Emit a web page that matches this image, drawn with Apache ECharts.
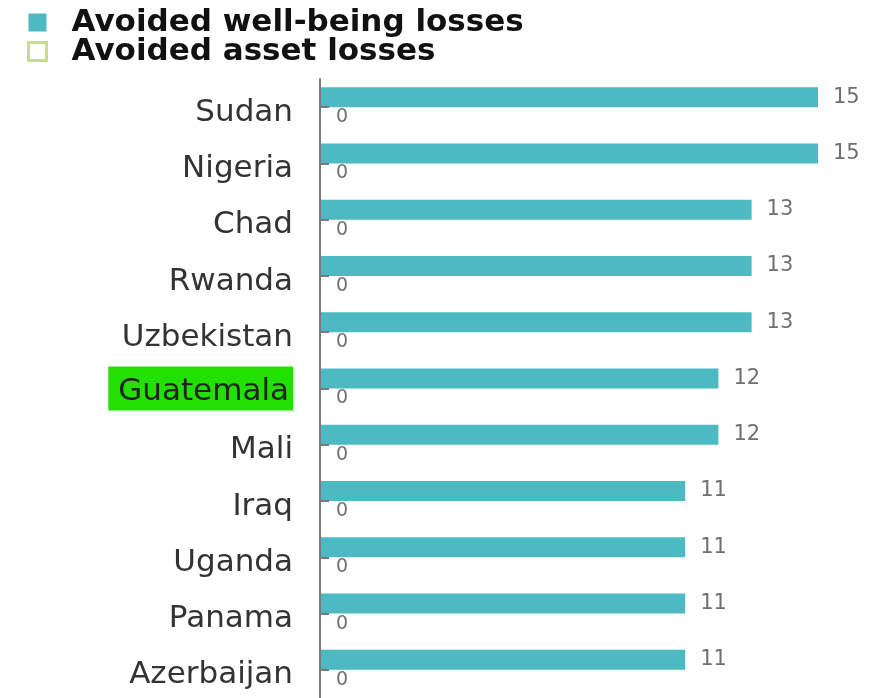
<!DOCTYPE html>
<html>
<head>
<meta charset="utf-8">
<script src="https://cdn.jsdelivr.net/npm/echarts@6/dist/echarts.min.js"></script>
<style>
  html, body { margin: 0; padding: 0; background: #fff; }
  #chart { width: 872px; height: 698px; }
</style>
</head>
<body>
<div id="chart"></div>
<script>
const countries = ['Sudan', 'Nigeria', 'Chad', 'Rwanda', 'Uzbekistan', 'Guatemala', 'Mali', 'Iraq', 'Uganda', 'Panama', 'Azerbaijan'];
const wellBeingLosses = [15, 15, 13, 13, 13, 12, 12, 11, 11, 11, 11];
const assetLosses = [0, 0, 0, 0, 0, 0, 0, 0, 0, 0, 0];
const highlighted = 'Guatemala';

const chart = echarts.init(document.getElementById('chart'));

const option = {
  animation: false,
  legend: {
    orient: 'vertical',
    left: 22,
    top: 2,
    itemWidth: 18,
    itemHeight: 18,
    itemGap: -2,
    textStyle: {
      fontFamily: 'DejaVu Sans',
      fontWeight: 'bold',
      fontSize: 31,
      lineHeight: 26,
      color: '#111',
      padding: [0, 0, 0, 20]
    },
    data: [
      { name: 'Avoided well-being losses', icon: 'rect' },
      { name: 'Avoided asset losses', icon: 'rect', itemStyle: { color: '#fff', borderColor: '#c6dc8e', borderWidth: 3 } }
    ]
  },
  grid: { left: 320, right: 54, top: 79, bottom: -3 },
  xAxis: {
    type: 'value',
    min: 0,
    max: 15,
    show: false
  },
  yAxis: {
    type: 'category',
    inverse: true,
    z: 10,
    data: countries,
    axisLine: { show: true, lineStyle: { color: '#7a7a7a', width: 2 } },
    axisTick: { show: true, alignWithLabel: true, inside: true, length: 9, lineStyle: { color: '#7a7a7a', width: 2 } },
    axisLabel: {
      margin: 27,
      fontFamily: 'DejaVu Sans',
      fontSize: 31,
      color: '#333',
      formatter: function (v) {
        // green marker behind the highlighted country
        return v === highlighted ? '{hl|' + v + '}' : '{n|' + v + '}';
      },
      rich: {
        n: {
          fontFamily: 'DejaVu Sans',
          fontSize: 31,
          color: '#333',
          padding: [11, 0, 0, 0]
        },
        hl: {
          fontFamily: 'DejaVu Sans',
          fontSize: 31,
          color: '#222',
          backgroundColor: '#22e000',
          padding: [10, 4, 3, 10]
        }
      }
    }
  },
  series: [
    {
      name: 'Avoided well-being losses',
      type: 'bar',
      data: wellBeingLosses,
      barWidth: 20,
      barGap: '0%',
      itemStyle: { color: '#4cb9c3' },
      label: {
        show: true,
        position: 'right',
        distance: 15,
        fontFamily: 'DejaVu Sans',
        fontSize: 21,
        color: '#707070'
      }
    },
    {
      name: 'Avoided asset losses',
      type: 'bar',
      data: assetLosses,
      barWidth: 20,
      itemStyle: { color: '#fff', borderColor: '#c6dc8e', borderWidth: 0 },
      label: {
        show: true,
        position: 'right',
        distance: 16,
        fontFamily: 'DejaVu Sans',
        fontSize: 19,
        color: '#707070'
      }
    }
  ]
};

chart.setOption(option);
</script>
</body>
</html>
